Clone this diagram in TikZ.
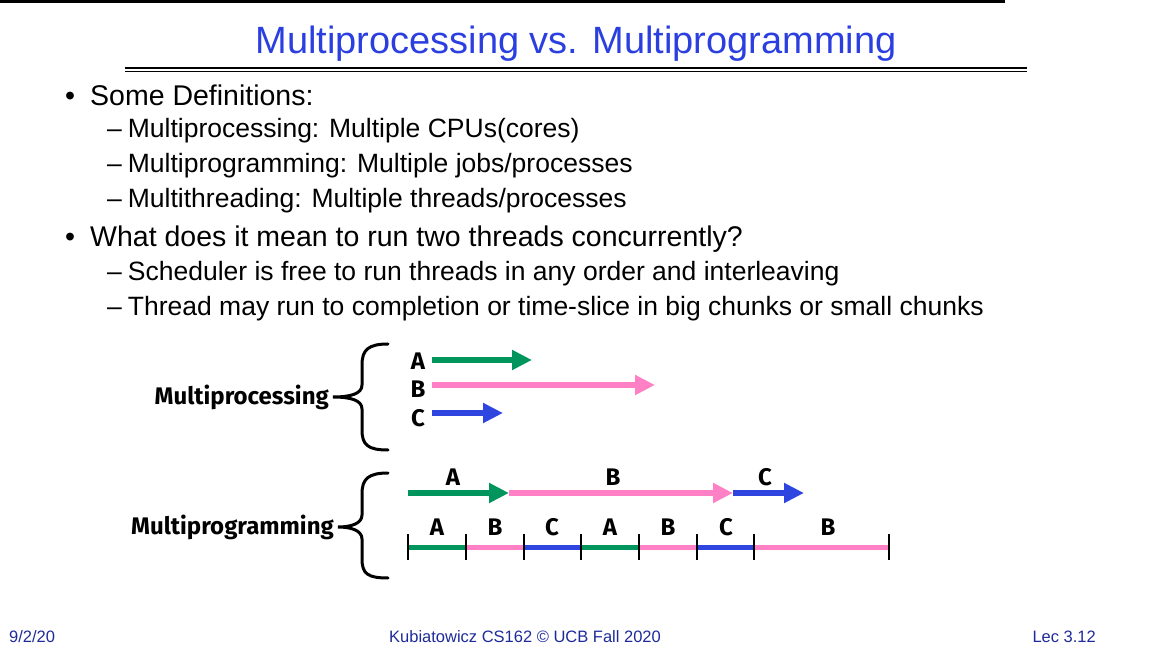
\documentclass[tikz,border=0pt]{standalone}
\usepackage{fontspec}
\setmainfont{Liberation Sans}
\newfontfamily\comic{Fira Sans}
\usetikzlibrary{arrows.meta}
\definecolor{tblue}{HTML}{2B3FE0}
\definecolor{cg}{HTML}{00955C}
\definecolor{cp}{HTML}{FF80C4}
\definecolor{cb}{HTML}{2F45E0}
\definecolor{fblue}{HTML}{1E2A9A}
\begin{document}
\begin{tikzpicture}[x=1pt,y=-1pt,
  bul/.style={anchor=west,font=\fontsize{28.5}{32}\selectfont,inner sep=0},
  sub/.style={anchor=west,font=\fontsize{26.5}{30}\selectfont,inner sep=0},
  lab/.style={font=\comic\bfseries\fontsize{24}{27}\selectfont,inner sep=0},
  arr/.style={line width=6pt,-{Triangle[length=20pt,width=19pt]}},
  seg/.style={line width=5pt},
  tick/.style={line width=2.5pt},
  br/.style={line width=3pt,line cap=round}]
\useasboundingbox (0,0) rectangle (1152,652);
\fill (0,0) rectangle (1005,3);
\node[text=tblue,font=\fontsize{38}{42}\selectfont] (title) at (576,44) {Multiprocessing vs. Multiprogramming};
\draw[line width=1.2pt] (125,68) -- (1027,68) (125,71.5) -- (1027,71.5);
\node[bul] (b1) at (65,95) {•\hspace{15pt}Some Definitions:};
\node[sub] (s1) at (107,131) {–\hspace{6pt}Multiprocessing: Multiple CPUs(cores)};
\node[sub] (s2) at (107,166) {–\hspace{6pt}Multiprogramming: Multiple jobs/processes};
\node[sub] (s3) at (107,201) {–\hspace{6pt}Multithreading: Multiple threads/processes};
\node[bul] (b2) at (65,239) {•\hspace{15pt}What does it mean to run two threads concurrently?};
\node[sub] (s4) at (107,274) {–\hspace{6pt}Scheduler is free to run threads in any order and interleaving};
\node[sub] (s5) at (107,309) {–\hspace{6pt}Thread may run to completion or time-slice in big chunks or small chunks};
% braces
\coordinate (t1) at (333,397);
\draw[br] (388,344) .. controls (368,344) and (362,350) .. (362,365) -- (362,385) .. controls (362,394) and (350,397) .. (t1)
          .. controls (350,397) and (362,400) .. (362,409) -- (362,430) .. controls (362,445) and (368,450) .. (388,450);
\coordinate (t2) at (338,527);
\draw[br] (388,473) .. controls (368,473) and (362,479) .. (362,494) -- (362,515) .. controls (362,524) and (350,527) .. (t2)
          .. controls (350,527) and (362,530) .. (362,539) -- (362,559) .. controls (362,574) and (368,578) .. (388,578);
\node[lab,anchor=east] (mp1) at (329,397) {Multiprocessing};
\node[lab,anchor=east] (mp2) at (334,527) {Multiprogramming};
% multiprocessing
\node[lab] (la) at (418,361) {A};
\node[lab] (lb) at (418,389) {B};
\node[lab] (lc) at (418,418) {C};
\coordinate (a0) at (432,360); \coordinate (a1) at (532,360);
\coordinate (b0) at (432,385); \coordinate (b1e) at (655,385);
\coordinate (c0) at (432,413); \coordinate (c1) at (503,413);
\draw[arr,cg] (a0) -- (a1);
\draw[arr,cp] (b0) -- (b1e);
\draw[arr,cb] (c0) -- (c1);
% multiprogramming arrows
\coordinate (p0) at (408,493); \coordinate (p1) at (509,493);
\coordinate (p2) at (733,493); \coordinate (p3) at (804,493);
\draw[arr,cg] (p0) -- (p1);
\draw[arr,cp] (p1) -- (p2);
\draw[arr,cb] (p2) -- (p3);
\node[lab] (pa) at (453,477) {A};
\node[lab] (pb) at (613,477) {B};
\node[lab] (pc) at (765,477) {C};
% timeline
\foreach \n/\x in {0/408,1/466,2/524,3/581,4/639,5/697,6/754,7/889} \coordinate (q\n) at (\x,547);
\draw[seg,cg] (q0) -- (q1); \draw[seg,cp] (q1) -- (q2); \draw[seg,cb] (q2) -- (q3);
\draw[seg,cg] (q3) -- (q4); \draw[seg,cp] (q4) -- (q5); \draw[seg,cb] (q5) -- (q6);
\draw[seg,cp] (q6) -- (q7);
\foreach \n in {0,...,7} \draw[tick] ([yshift=-13pt]q\n) -- ([yshift=13pt]q\n);
\foreach \n/\x/\t in {0/437/A,1/495/B,2/552/C,3/610/A,4/668/B,5/726/C,6/828/B}
  \node[lab] (ql\n) at (\x,527) {\t};
% footer
\node[anchor=west,text=fblue,font=\fontsize{16.5}{19}\selectfont,inner sep=0] (f1) at (9,637) {9/2/20};
\node[text=fblue,font=\fontsize{16.5}{19}\selectfont,inner sep=0] (f2) at (525,637) {Kubiatowicz CS162 © UCB Fall 2020};
\node[anchor=east,text=fblue,font=\fontsize{16.5}{19}\selectfont,inner sep=0] (f3) at (1096,637) {Lec 3.12};
\end{tikzpicture}
\end{document}
